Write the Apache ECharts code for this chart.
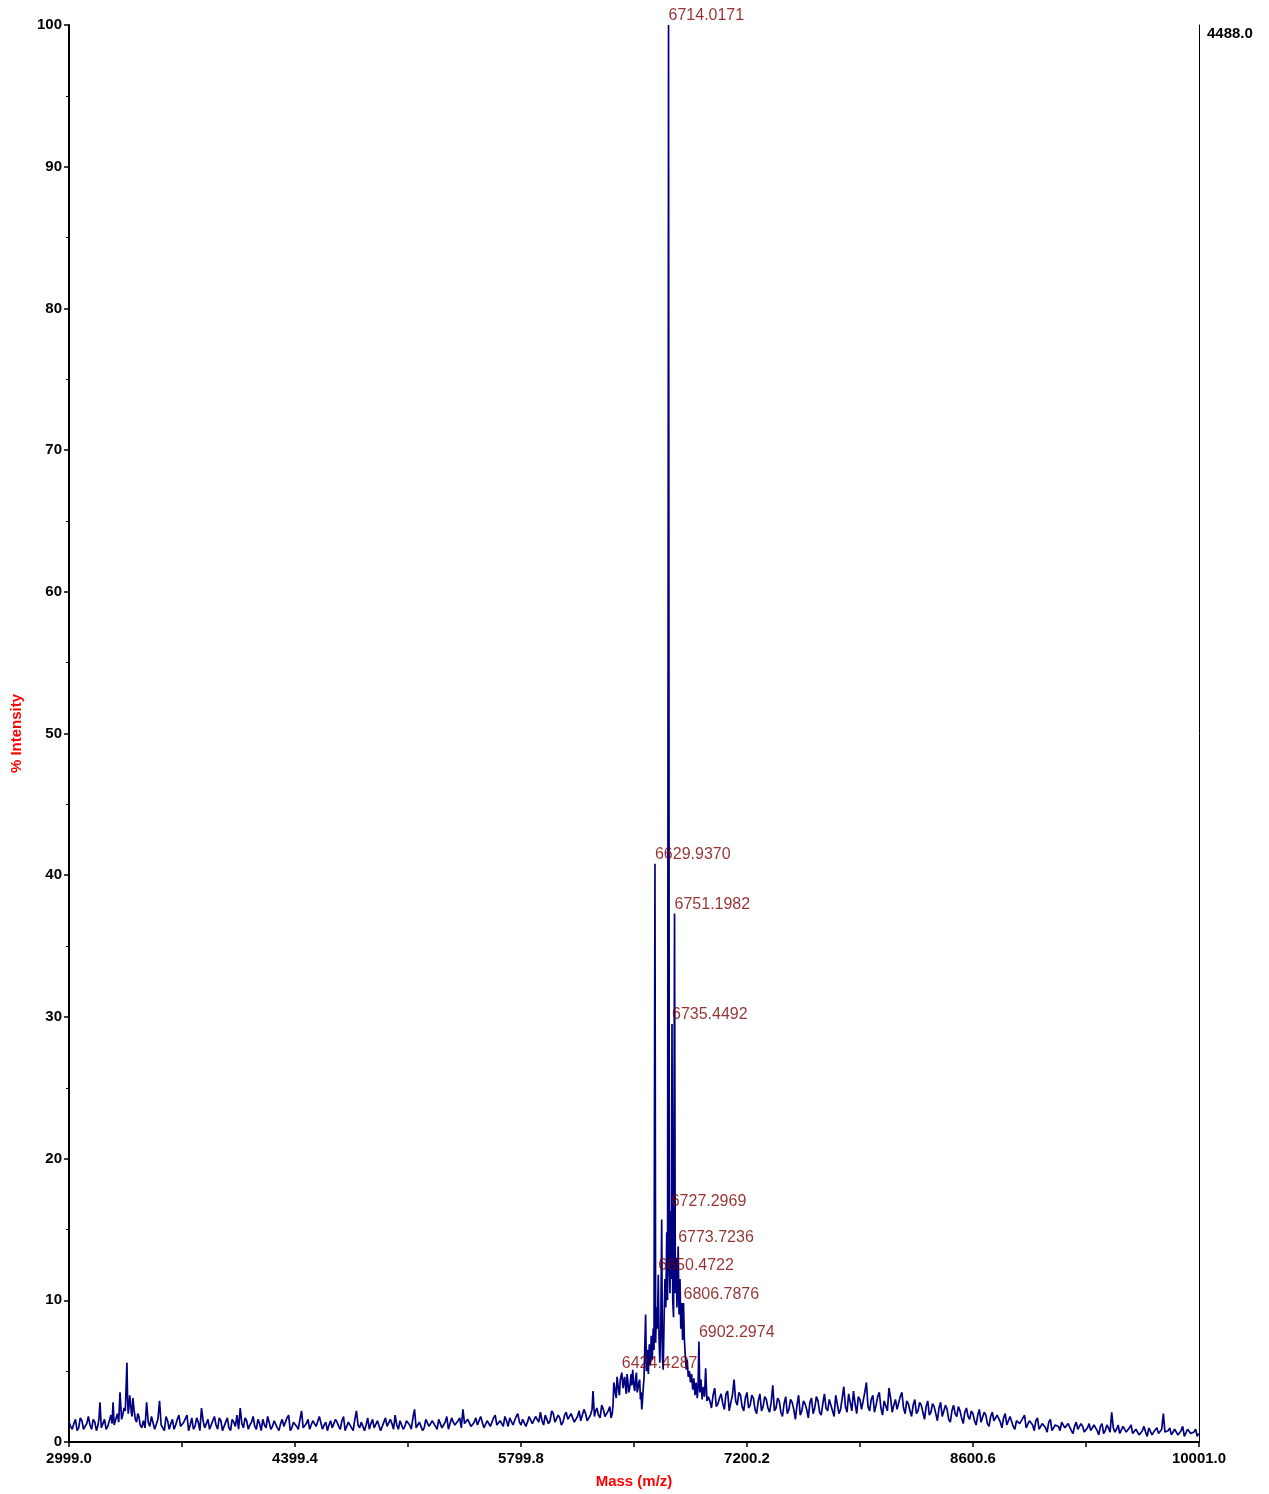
<!DOCTYPE html>
<html>
<head>
<meta charset="utf-8">
<script src="https://cdn.jsdelivr.net/npm/echarts@6/dist/echarts.min.js"></script>
<style>
html,body{margin:0;padding:0;background:#fff;}
#chart{width:1269px;height:1494px;}
</style>
</head>
<body>
<div id="chart"></div>
<script>
// ---- spectrum data: [mass (m/z), % intensity] ----
const segLow = [
[2999,1.4],[3019,0.9],[3039,1.6],[3059,1.0],[3079,1.5],[3099,1.1],[3119,1.8],[3139,0.9],[3159,1.4],[3179,1.2],
[3191,2.8],[3199,1.0],[3219,1.6],[3239,1.1],[3259,1.9],[3272,2.8],[3279,1.2],[3299,2.0],[3315,3.5],[3325,1.6],
[3340,2.4],[3358,5.6],[3366,2.0],[3375,3.3],[3385,2.1],[3395,3.1],[3410,1.6],[3425,2.0],[3440,1.2]
];
const segLowB = [
[3009,1.1],[3029,1.3],[3049,0.8],[3069,1.7],[3089,0.9],[3109,1.3],[3129,1.2],[3149,1.6],[3169,0.8],[3185,1.7],
[3209,1.3],[3229,0.9],[3249,1.5],[3266,1.3],[3289,1.1],[3307,1.4],[3332,1.9],[3348,2.2],[3362,3.0],[3370,2.4],
[3380,2.8],[3390,1.8],[3402,2.3],[3418,1.4],[3432,1.8],[3450,1.0]
];
const segBase = [
[3460,1.5],[3480,2.8],[3500,1.1],[3520,1.7],[3540,1.0],[3560,2.9],[3580,1.3],[3600,1.8],[3620,0.9],[3640,1.6],
[3660,1.2],[3680,1.9],[3700,1.0],[3720,1.5],[3740,0.8],[3760,1.7],[3780,1.1],[3800,1.4],[3820,2.4],[3840,1.0],
[3860,1.6],[3880,1.2],[3900,1.8],[3920,0.9],[3940,1.5],[3960,1.1],[3980,1.7],[4000,0.8],[4020,1.4],[4040,1.9],
[4060,2.4],[4080,1.0],[4100,1.5],[4120,1.2],[4140,1.8],[4160,0.9],[4180,1.3],[4200,1.6],[4220,1.0],[4240,1.7],
[4260,1.1],[4280,1.4],[4300,0.8],[4320,1.6],[4340,1.2],[4360,1.9],[4380,1.0],[4400,1.5],[4420,0.9],[4440,2.2],
[4460,1.1],[4480,1.6],[4500,0.8],[4520,1.3],[4540,1.0],[4560,1.7],[4580,1.2],[4600,0.8],[4620,1.5],[4640,1.0],
[4660,1.4],[4680,0.9],[4700,1.8],[4720,1.1],[4740,1.3],[4760,0.8],[4780,2.2],[4800,1.0],[4820,1.5],[4840,1.2],
[4860,0.9],[4880,1.6],[4900,1.1],[4920,1.4],[4940,0.8],[4960,1.7],[4980,1.0],[5000,1.3],[5020,1.9],[5040,0.9],
[5060,1.4],[5080,1.1],[5100,1.6],[5120,0.9],[5140,2.3],[5160,1.2],[5180,1.5],[5200,1.0],[5220,1.7],[5240,1.1],
[5260,1.3],[5280,0.9],[5300,1.6],[5320,1.2],[5340,1.8],[5360,1.0],[5380,1.4],[5400,1.1],[5420,1.7],[5440,2.3],
[5460,1.2],[5480,1.5],[5500,1.0],[5520,1.7],[5540,1.1],[5560,1.4],[5580,0.9],[5600,1.6],[5620,1.2],[5640,1.9],[5660,1.3]
];
const segBaseB = [
[3470,1.0],[3490,1.4],[3510,1.8],[3530,0.9],[3550,1.6],[3570,1.2],[3590,0.8],[3610,1.5],[3630,1.3],[3650,0.9],
[3670,1.6],[3690,1.1],[3710,1.4],[3730,1.9],[3750,1.2],[3770,0.9],[3790,1.7],[3810,0.8],[3830,1.5],[3850,1.3],
[3870,0.9],[3890,1.5],[3910,1.2],[3930,1.7],[3950,0.8],[3970,1.4],[3990,1.0],[4010,1.6],[4030,1.1],[4050,0.9],
[4070,1.3],[4090,1.7],[4110,0.9],[4130,1.4],[4150,1.1],[4170,1.6],[4190,0.8],[4210,1.2],[4230,1.8],[4250,0.9],
[4270,1.5],[4290,1.0],[4310,1.3],[4330,1.1],[4350,1.7],[4370,0.8],[4390,1.4],[4410,1.1],[4430,1.6],[4450,1.0],
[4470,1.3],[4490,0.9],[4510,1.5],[4530,1.1],[4550,1.8],[4570,0.9],[4590,1.4],[4610,1.2],[4630,1.0],[4650,1.6],
[4670,1.1],[4690,1.5],[4710,0.8],[4730,1.4],[4750,1.0],[4770,1.6],[4790,1.2],[4810,1.4],[4830,0.8],[4850,1.7],
[4870,1.3],[4890,1.0],[4910,1.5],[4930,0.8],[4950,1.4],[4970,1.1],[4990,1.6],[5010,0.9],[5030,1.2],[5050,1.5],
[5070,0.9],[5090,1.5],[5110,1.2],[5130,1.7],[5150,1.0],[5170,1.4],[5190,0.8],[5210,1.6],[5230,1.1],[5250,1.5],
[5270,1.1],[5290,1.6],[5310,1.0],[5330,1.4],[5350,0.9],[5370,1.7],[5390,1.2],[5410,1.5],[5430,1.0],[5450,1.3],
[5470,1.6],[5490,1.1],[5510,1.4],[5530,1.2],[5550,1.8],[5570,1.0],[5590,1.5],[5610,1.1],[5630,1.7],[5650,1.2],[5670,1.5]
];
const segRise = [
[5680,1.4],[5700,1.8],[5720,1.1],[5740,1.6],[5760,1.3],[5780,2.0],[5800,1.2],[5820,1.7],[5840,1.4],[5860,1.9],
[5880,1.3],[5900,1.6],[5920,2.1],[5940,1.2],[5960,1.8],[5980,1.5],[6000,2.0],[6020,1.3],[6040,1.7],[6060,1.4],
[6080,2.1],[6100,1.5],[6120,1.9],[6140,1.3],[6160,2.2],[6180,1.6],[6200,2.0],[6220,1.4],[6240,2.3],[6246,3.6],
[6255,1.8],[6270,2.4],[6290,1.7],[6310,2.3],[6330,1.9],[6350,2.5],[6365,2.0],[6375,4.2],[6385,3.4],[6395,4.6],
[6405,3.6],[6415,4.4],[6424.4287,4.9],[6432,3.8],[6442,4.6],[6452,3.4],[6462,4.3],[6472,3.7],[6482,4.8],[6492,5.1],
[6500,3.9],[6510,4.5],[6520,3.5],[6530,4.2],[6540,3.0],[6548,2.3],[6556,3.6]
];
const segRiseB = [
[5690,1.1],[5710,1.5],[5730,1.7],[5750,1.2],[5770,1.8],[5790,1.4],[5810,1.6],[5830,1.1],[5850,1.8],[5870,1.3],
[5890,1.8],[5910,1.4],[5930,1.5],[5950,1.9],[5970,1.3],[5990,2.2],[6010,1.4],[6030,1.9],[6050,1.2],[6070,1.9],
[6090,1.6],[6110,2.0],[6130,1.4],[6150,1.8],[6170,1.5],[6190,2.3],[6210,1.5],[6230,1.9],
[6260,2.1],[6280,1.9],[6300,2.6],[6320,1.8],[6340,2.2],[6358,1.7],[6370,2.6],
[6380,3.9],[6390,3.1],[6400,4.1],[6410,3.3],[6420,4.4],[6437,4.3],[6447,3.9],[6457,4.8],[6467,3.5],[6477,4.2],
[6487,4.0],[6496,4.4],[6505,3.6],[6515,4.9],[6525,3.8],[6535,4.4],[6544,3.5],[6552,2.8]
];
const segCluster = [
[6562,4.5],[6572,9.0],[6577,5.0],[6583,6.5],[6589,4.8],[6595,6.9],[6601,5.4],[6607,7.5],[6613,5.8],[6619,8.0],
[6624,6.5],[6629.937,40.8],[6634,7.0],[6640,9.5],[6645,8.0],[6650.4722,11.8],[6655,7.5],[6660,5.6],[6666,8.0],[6671.6,15.7],
[6676,6.0],[6681,5.1],[6687,9.0],[6692,11.5],[6697,9.5],[6703,14.8],[6708,10.0],[6714.0171,100],[6719,12.0],[6723,10.5],
[6727.2969,16.3],[6731,11.5],[6735.4492,29.5],[6740,10.0],[6745,8.8],[6751.1982,37.3],[6756,10.5],[6761,13.0],[6766,9.5],[6773.7236,13.8],
[6779,9.0],[6785,11.5],[6790,8.0],[6796,9.8],[6801,7.2],[6806.7876,9.8],[6812,7.3],[6818,6.0],[6824,5.1],[6830,5.8],
[6836,4.6],[6843,5.0],[6850,4.2],[6857,4.8],[6864,3.7],[6871,4.5],[6878,3.3],[6885,4.2],[6892,3.1],[6897,3.9],
[6902.2974,7.1],[6908,3.5],[6915,4.4],[6922,3.0],[6930,3.9],[6937,3.2],[6944,5.2],[6952,2.9]
];
const segTail = [
[6960,3.2],[6980,2.4],[7000,3.8],[7020,2.7],[7040,3.4],[7060,2.3],[7080,3.6],[7100,2.8],[7120,4.4],[7140,2.6],
[7160,3.3],[7180,2.2],[7200,3.5],[7220,2.6],[7240,3.1],[7260,2.0],[7280,3.4],[7300,2.5],[7320,3.0],[7340,2.1],
[7360,4.0],[7380,2.4],[7400,2.9],[7420,1.8],[7440,3.2],[7460,2.3],[7480,2.8],[7500,1.6],[7520,3.3],[7540,2.2],
[7560,2.7],[7580,1.7],[7600,3.1],[7620,2.4],[7640,2.9],[7660,1.9],[7680,3.4],[7700,2.2],[7720,2.6],[7740,1.8],
[7760,3.2],[7780,2.3],[7800,3.9],[7820,2.1],[7840,2.8],[7860,3.6],[7880,2.0],[7900,3.0],[7920,2.4],[7940,4.2],
[7960,2.2],[7980,3.3],[8000,2.6],[8020,3.5],[8040,1.9],[8060,2.9],[8080,3.8],[8100,2.1],[8120,3.0],[8140,2.4],
[8160,3.5],[8180,2.0],[8200,2.7],[8220,1.8],[8240,3.0],[8260,2.2],[8280,2.6],[8300,1.6],[8320,2.9],[8340,2.1],
[8360,2.5],[8380,1.5],[8400,2.8],[8420,1.9],[8440,2.3],[8460,1.4],[8480,2.6],[8500,1.8],[8520,2.2],[8540,1.3],
[8560,2.4],[8580,1.6],[8600,2.0],[8620,1.2],[8640,2.3],[8660,1.5],[8680,1.9],[8700,1.1],[8720,2.1],[8740,1.4],
[8760,1.8],[8780,1.0],[8800,2.0],[8820,1.3],[8840,1.7],[8860,0.9],[8880,1.6],[8900,1.2],[8920,1.9],[8940,1.0],
[8960,1.5],[8980,0.8],[9000,1.7],[9020,1.1],[9040,1.4],[9060,0.7],[9080,1.6],[9100,1.0],[9120,1.3],[9140,0.8],
[9160,1.5],[9180,0.9],[9200,1.2],[9220,0.6],[9240,1.4],[9260,0.8],[9280,1.1],[9300,0.6],[9320,1.3],[9340,0.9],
[9360,1.1],[9380,0.5],[9400,1.3],[9420,0.8],[9440,1.0],[9460,2.1],[9480,0.7],[9500,1.2],[9520,0.5],[9540,1.0],
[9560,0.7],[9580,1.2],[9600,0.5],[9620,0.9],[9640,0.6],[9660,1.1],[9680,0.4],[9700,0.9],[9720,0.7],[9740,1.0],
[9760,0.5],[9780,2.0],[9800,0.6],[9820,1.0],[9840,0.4],[9860,0.8],[9880,0.6],[9900,1.1],[9920,0.4],[9940,0.8],
[9960,0.5],[9980,0.9],[10000,0.6]
];
const segTailB = [
[6970,2.9],[6990,3.3],[7010,2.5],[7030,3.1],[7050,2.7],[7070,3.4],[7090,2.2],[7110,3.3],[7130,2.9],[7150,3.5],
[7170,2.5],[7190,3.1],[7210,2.4],[7230,3.3],[7250,2.3],[7270,2.9],[7290,2.2],[7310,3.2],[7330,2.4],[7350,2.8],
[7370,2.2],[7390,3.1],[7410,2.1],[7430,2.7],[7450,2.0],[7470,3.0],[7490,2.3],[7510,2.6],[7530,1.9],[7550,2.9],
[7570,2.3],[7590,2.8],[7610,2.0],[7630,3.2],[7650,2.1],[7670,2.7],[7690,2.4],[7710,3.0],[7730,2.2],[7750,3.3],
[7770,2.0],[7790,3.1],[7810,2.5],[7830,3.4],[7850,2.2],[7870,2.7],[7890,3.2],[7910,2.3],[7930,3.5],[7950,2.5],
[7970,3.0],[7990,2.1],[8010,3.2],[8030,2.4],[8050,2.9],[8070,2.2],[8090,3.1],[8110,2.6],[8130,2.3],[8150,3.2],
[8170,2.4],[8190,2.9],[8210,2.2],[8230,2.6],[8250,2.0],[8270,2.8],[8290,2.1],[8310,2.5],[8330,1.9],[8350,2.7],
[8370,2.0],[8390,2.4],[8410,1.8],[8430,2.6],[8450,1.6],[8470,2.2],[8490,2.0],[8510,2.5],[8530,1.7],[8550,2.1],
[8570,1.8],[8590,2.2],[8610,1.5],[8630,1.9],[8650,1.4],[8670,2.1],[8690,1.3],[8710,1.8],[8730,1.5],[8750,1.9],
[8770,1.4],[8790,1.7],[8810,1.2],[8830,1.8],[8850,1.1],[8870,1.5],[8890,1.3],[8910,1.7],[8930,1.0],[8950,1.5],
[8970,1.2],[8990,1.5],[9010,0.9],[9030,1.3],[9050,1.0],[9070,1.4],[9090,0.8],[9110,1.2],[9130,1.1],[9150,1.4],
[9170,1.0],[9190,1.3],[9210,0.8],[9230,1.1],[9250,0.9],[9270,1.3],[9290,0.7],[9310,1.0],[9330,0.8],[9350,1.2],
[9370,0.8],[9390,1.1],[9410,0.6],[9430,1.2],[9450,0.7],[9470,1.0],[9490,0.9],[9510,0.6],[9530,1.1],[9550,0.7],
[9570,1.0],[9590,0.6],[9610,0.9],[9630,0.5],[9650,0.8],[9670,0.7],[9690,1.0],[9710,0.5],[9730,0.8],[9750,0.6],
[9770,0.9],[9790,0.7],[9810,0.8],[9830,0.5],[9850,0.9],[9870,0.5],[9890,0.8],[9910,0.4],[9930,0.9],[9950,0.6],
[9970,0.7],[9990,0.4]
];

// labelled peaks
const peakMasses = [6424.4287, 6629.9370, 6650.4722, 6714.0171, 6727.2969, 6735.4492, 6751.1982, 6773.7236, 6806.7876, 6902.2974];
const peakHeights = [4.9, 40.8, 11.8, 100, 16.3, 29.5, 37.3, 13.8, 9.8, 7.1];

// axis ticks
const xTickLabels = [2999.0, 4399.4, 5799.8, 7200.2, 8600.6, 10001.0];
const xMinorTicks = [3699.2, 5099.6, 6500.0, 7900.4, 9300.8];
const maxCounts = 4488.0;

const spectrum = [].concat(segLow, segLowB, segBase, segBaseB, segRise, segRiseB, segCluster, segTail, segTailB)
  .sort((a, b) => a[0] - b[0]);
const peaks = peakMasses.map((m, i) => [m, peakHeights[i]]);

const chart = echarts.init(document.getElementById('chart'), null, {renderer: 'canvas'});
const FONT = 'Liberation Sans, Arial, Helvetica, sans-serif';
const tickFont = {fontFamily: FONT, fontWeight: 'bold', fontSize: 15, color: '#000'};

chart.setOption({
  animation: false,
  backgroundColor: '#fff',
  grid: {left: 69, right: 70, top: 25, bottom: 51, containLabel: false},
  xAxis: {
    type: 'value',
    min: 2999, max: 10001,
    name: 'Mass (m/z)',
    nameLocation: 'middle',
    nameGap: 32,
    nameTextStyle: {color: '#ff0000', fontWeight: 'bold', fontSize: 15, fontFamily: FONT},
    axisLine: {show: true, onZero: false, lineStyle: {color: '#000', width: 2}},
    axisTick: {show: true, length: 5, lineStyle: {color: '#000', width: 1.5},
               customValues: xTickLabels.concat(xMinorTicks)},
    axisLabel: Object.assign({customValues: xTickLabels, margin: 9,
               formatter: v => Number(v).toFixed(1)}, tickFont),
    splitLine: {show: false}
  },
  yAxis: [{
    type: 'value',
    min: 0, max: 100, interval: 10,
    name: '% Intensity',
    nameLocation: 'middle',
    nameGap: 45,
    nameRotate: 90,
    nameTextStyle: {color: '#ff0000', fontWeight: 'bold', fontSize: 15, fontFamily: FONT},
    axisLine: {show: true, lineStyle: {color: '#000', width: 2}},
    axisTick: {show: true, length: 5, lineStyle: {color: '#000', width: 1.5}},
    minorTick: {show: true, splitNumber: 2, length: 3, lineStyle: {color: '#000', width: 1}},
    axisLabel: Object.assign({margin: 7, padding: [3, 0, 0, 0]}, tickFont),
    splitLine: {show: false}
  }, {
    type: 'value',
    position: 'right',
    min: 0, max: maxCounts, interval: maxCounts,
    axisLine: {show: true, lineStyle: {color: '#000', width: 1}},
    axisTick: {show: false},
    axisLabel: Object.assign({showMinLabel: false, margin: 8, verticalAlign: 'top', padding: [1, 0, 0, 0],
               formatter: v => Number(v).toFixed(1)}, tickFont),
    splitLine: {show: false}
  }],
  series: [{
    type: 'line',
    data: spectrum,
    showSymbol: false,
    symbol: 'none',
    sampling: null,
    lineStyle: {color: '#000080', width: 1.7},
    silent: true,
    z: 2
  }, {
    type: 'scatter',
    data: peaks,
    symbolSize: 0,
    label: {
      show: true,
      position: 'top',
      align: 'left',
      distance: 1,
      formatter: p => p.value[0].toFixed(4),
      color: '#7a0000',
      fontSize: 16,
      fontFamily: FONT
    },
    silent: true,
    z: 3
  }]
});
</script>
</body>
</html>
